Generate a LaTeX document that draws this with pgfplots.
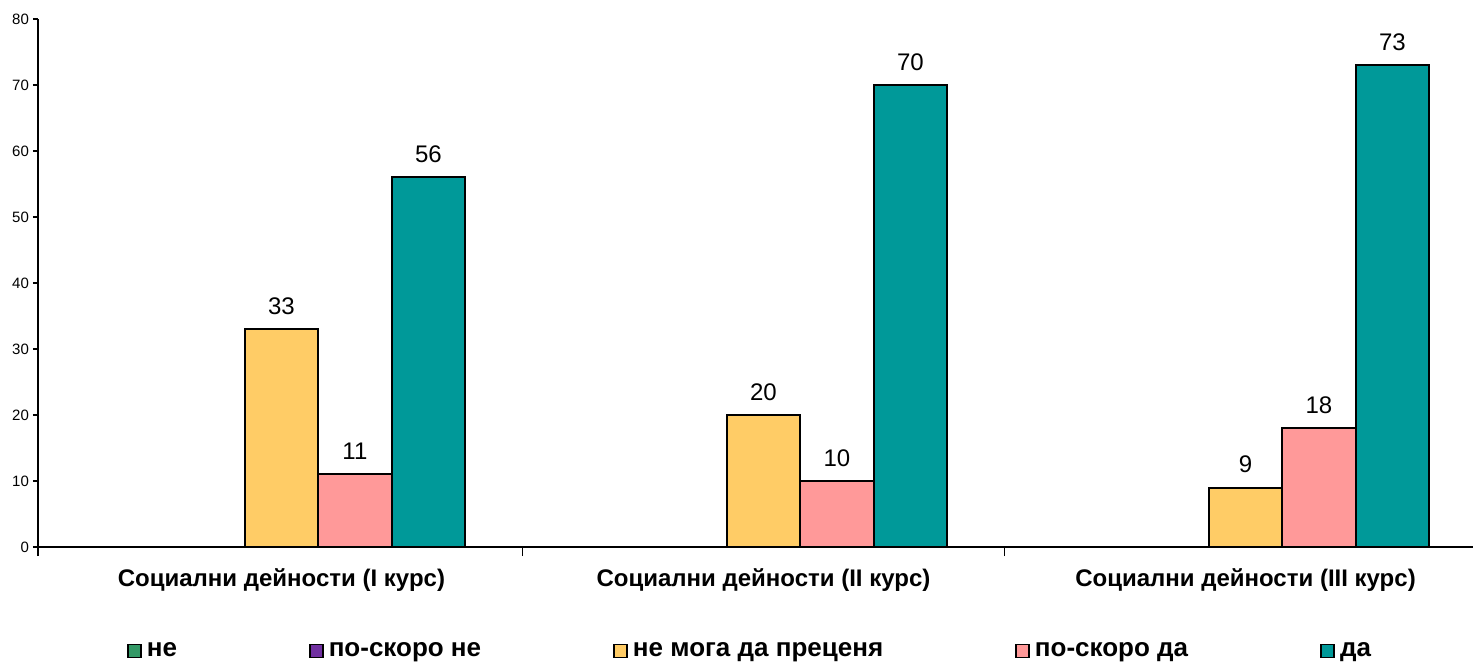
\documentclass[border=0pt]{standalone}
\usepackage{fontspec}
\setmainfont{Liberation Sans}
\usepackage{pgfplots}
\pgfplotsset{compat=1.18}
\definecolor{cGreen}{HTML}{339966}
\definecolor{cPurple}{HTML}{7030A0}
\definecolor{cYel}{HTML}{FFCC66}
\definecolor{cPink}{HTML}{FF9999}
\definecolor{cTeal}{HTML}{009999}
\pgfplotsset{
  mybar/.style={draw=black, line width=1pt,
    legend image code/.code={\draw[##1, line width=0.9pt] (0pt,-3.25pt) rectangle (6.5pt,3.25pt);}},
}
\begin{document}
\begin{tikzpicture}
\begin{axis}[
  at={(0,0)}, anchor=south west,
  scale only axis, width=717.5pt, height=264pt,
  ybar=0pt, bar width=36.75pt,
  xmin=-0.505, xmax=2.472, ymin=0, ymax=80,
  axis lines*=left,
  axis line style={line width=0.75pt, black},
  tick align=outside,
  ytick={0,10,...,80},
  major tick length=2.5pt,
  minor tick length=4.5pt,
  yticklabel style={font=\fontsize{7.5}{9}\selectfont, xshift=1.5pt},
  /pgf/number format/assume math mode=true,
  xtick={0,1,2},
  xticklabels={Социални дейности (I курс), Социални дейности (II курс), Социални дейности (III курс)},
  xticklabel style={font=\fontsize{12}{14}\selectfont\bfseries, yshift=-5pt},
  major x tick style={draw=none},
  minor xtick={-0.505,0.5,1.5},
  minor x tick style={black, line width=0.75pt},
  y tick style={black, line width=0.75pt},
  nodes near coords style={font=\fontsize{12}{14}\selectfont, yshift=3.5pt},
  legend columns=5,
  legend style={draw=none, fill=none, inner sep=0pt, outer sep=0pt,
    at={(44.5pt,-52pt)}, anchor=west,
    font=\fontsize{13}{15}\selectfont\bfseries,
    /tikz/every even column/.append style={column sep=64pt},
    /tikz/every odd column/.append style={column sep=0.5pt}},
  legend cell align=left,
]
\addplot[mybar, fill=cGreen] coordinates {(0,0) (1,0) (2,0)};
\addlegendentry{не}
\addplot[mybar, fill=cPurple] coordinates {(0,0) (1,0) (2,0)};
\addlegendentry{по-скоро не}
\addplot[mybar, fill=cYel, nodes near coords] coordinates {(0,33) (1,20) (2,9)};
\addlegendentry{не мога да преценя}
\addplot[mybar, fill=cPink, nodes near coords] coordinates {(0,11) (1,10) (2,18)};
\addlegendentry{по-скоро да}
\addplot[mybar, fill=cTeal, nodes near coords] coordinates {(0,56) (1,70) (2,73)};
\addlegendentry{да}
\end{axis}
\pgfresetboundingbox
\path[use as bounding box] (-19pt,-57pt) rectangle (717.5pt,273.5pt);
\end{tikzpicture}
\end{document}
